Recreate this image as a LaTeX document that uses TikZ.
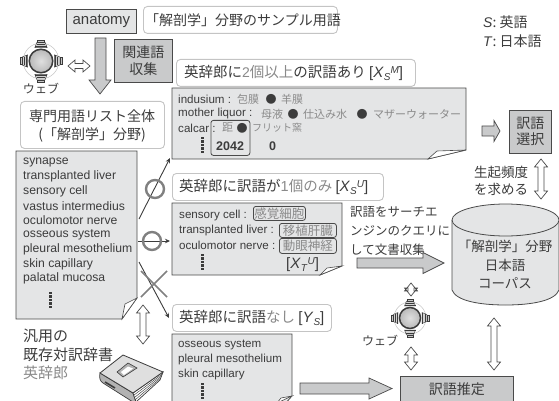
\documentclass[tikz,border=0pt]{standalone}
\usepackage{fontspec}
\setmainfont{Liberation Sans}
\newfontfamily\jp{Noto Sans CJK JP}
\usetikzlibrary{calc,arrows.meta}
\definecolor{ink}{HTML}{3C3C3C}
\definecolor{soft}{HTML}{8A8A8A}
\definecolor{paper}{HTML}{E4E5E6}
\definecolor{midgray}{HTML}{C9CACB}
\definecolor{edge}{HTML}{4A4A4A}
\definecolor{rim}{HTML}{C4C4C4}
\newcommand{\sz}[1]{\fontsize{#1}{#1}\selectfont}
\newcommand{\gr}[1]{\textcolor{soft}{#1}}
\newcommand{\subsup}[3]{\textit{#1}\raisebox{-3pt}{\sz{10}\textit{#2}}\raisebox{4pt}{\sz{10}\textit{#3}}}
\newcommand{\lat}{\rmfamily\sz{15}}
\tikzset{
  x=1pt,y=-1pt,
  lab/.style={font=\jp\sz{14},text=ink,inner sep=0pt,anchor=west},
  taglab/.style={font=\jp\sz{14.5},text=ink,inner sep=0pt,anchor=west},
  en/.style={font=\sz{11.6},text=ink,inner sep=0pt,anchor=west},
  enlist/.style={font=\sz{12.2},text=ink,inner sep=0pt,anchor=west},
  jsoft/.style={font=\jp\sz{11},text=soft,inner sep=0pt,anchor=west},
  dotsep/.style={font=\jp\sz{11},text=ink,inner sep=0pt,anchor=center},
  tag/.style={draw=rim,fill=white,rounded corners=4pt,line width=0.9pt,inner sep=0pt,anchor=north west},
  solidbox/.style={draw=edge,line width=0.8pt,inner sep=0pt,anchor=north west,font=\jp\sz{14},text=ink,align=center},
  sheet/.style={inner sep=0pt,anchor=north west},
  sheetline/.style={draw=edge,fill=paper,line width=0.8pt},
  foldline/.style={draw=edge,fill=white,line width=0.6pt},
  block/.style={draw=edge,fill=midgray,line width=0.7pt},
  hollow/.style={draw=edge,fill=white,line width=0.7pt},
  ringmark/.style={draw=gray,line width=2.4pt},
  thin arrow/.style={draw=ink,line width=0.9pt,-{Stealth[length=5pt,width=4.5pt]}},
  hi/.style={draw=edge,rounded corners=2.5pt,line width=0.8pt,inner sep=0pt,anchor=north west},
}
% vertical double-headed arrow: centre x, top y, bottom y
\newcommand{\dblV}[3]{\draw[hollow] (#1,#2) -- (#1+6.5,#2+8) -- (#1+3,#2+8) -- (#1+3,#3-8) -- (#1+6.5,#3-8) -- (#1,#3) -- (#1-6.5,#3-8) -- (#1-3,#3-8) -- (#1-3,#2+8) -- (#1-6.5,#2+8) -- cycle;}
% horizontal double-headed arrow: left x, right x, centre y
\newcommand{\dblH}[3]{\draw[hollow] (#1,#3) -- (#1+7,#3-6) -- (#1+7,#3-2.5) -- (#2-7,#3-2.5) -- (#2-7,#3-6) -- (#2,#3) -- (#2-7,#3+6) -- (#2-7,#3+2.5) -- (#1+7,#3+2.5) -- (#1+7,#3+6) -- cycle;}
% right-pointing block arrow: tail x, head start x, tip x, centre y, half shaft, half head
\newcommand{\blockR}[6]{\draw[block] (#1,#4-#5) -- (#2,#4-#5) -- (#2,#4-#6) -- (#3,#4) -- (#2,#4+#6) -- (#2,#4+#5) -- (#1,#4+#5) -- cycle;}
% stacked dots
\newcommand{\vdotsbar}[2]{\foreach \k in {0,1,2,3,4}{\fill[ink] (#1-1.5,#2+\k*3.4) rectangle (#1+1.5,#2+\k*3.4+2.3);}}
% globe with four speakers around it: x, y, scale
\newcommand{\globeicon}[3]{%
  \begin{scope}[shift={(#1,#2)},scale=#3]
    \draw[rim,line width=0.5pt] (0,0) circle[radius=16];
    \foreach \a in {0,90,180,270}{
      \begin{scope}[rotate=\a]
        \fill[gray!35,draw=ink,line width=0.4pt] (-5.5,-12) -- (5.5,-12) -- (3.5,-17) -- (-3.5,-17) -- cycle;
        \draw[ink,line width=1.1pt] (-5.5,-12.6) -- (5.5,-12.6);
        \draw[ink,line width=0.7pt] (-4,-15) -- (4,-15);
        \fill[gray!45,draw=ink,line width=0.3pt] (-3,-17) rectangle (3,-19);
      \end{scope}
    }
    \shade[inner color=gray!25,outer color=gray!55] (0,0) circle[radius=10.5];
    \draw[ink,line width=1.5pt] (0,0) circle[radius=10.5];
  \end{scope}}
\begin{document}
\begin{tikzpicture}
\useasboundingbox (0,0) rectangle (559,401);
\begin{scope}
\clip (0,0) rectangle (559,401);

% header row
\node[solidbox,fill=paper,font=\sz{15},minimum width=70pt,minimum height=24pt] (seed) at (66,9) {anatomy};
\node[tag,minimum width=194pt,minimum height=27pt] (sampletag) at (143,6) {};
\node[lab] (sampletext) at (145,20) {「解剖学」分野のサンプル用語};

% legend
\node[lab] (legS) at (483,22) {\textit{\rmfamily S}: 英語};
\node[lab] (legT) at (483,41) {\textit{\rmfamily T}: 日本語};

% seed collection
\draw[block] (95,38) -- (106,38) -- (106,80) -- (111,80) -- (100,94) -- (89,80) -- (95,80) -- cycle;
\node[solidbox,fill=midgray,minimum width=58pt,minimum height=43pt] (collect) at (114,39) {関連語\\[3pt]収集};
\globeicon{41}{61}{1.12}
\node[lab,font=\jp\sz{12},anchor=center] (webA) at (41,89) {ウェブ};
\dblH{68}{90}{66}

% full term list
\node[tag,minimum width=144pt,minimum height=47pt] (alltag) at (20,101) {};
\node[lab,anchor=center,align=center] (alltext) at (92,126) {専門用語リスト全体\\[4pt](「解剖学」分野)};
\node[sheet,minimum width=121pt,minimum height=168pt] (terms) at (16,151) {};
\draw[sheetline] (16,151) -- (137,151) -- (137,298) -- (122,319) -- (16,319) -- cycle;
\draw[foldline] (137,298) -- (125,304) -- (122,319) -- cycle;
\foreach \t [count=\i from 0] in {synapse,transplanted liver,sensory cell,vastus intermedius,oculomotor nerve,osseous system,pleural mesothelium,skin capillary,palatal mucosa}{
  \node[enlist] (term\i) at (23,{162+\i*14.6}) {\t};
}
\vdotsbar{50}{292}

% general dictionary
\node[lab,font=\jp\sz{15}] (dicA) at (23,336) {汎用の};
\node[lab,font=\jp\sz{15}] (dicB) at (23,355) {既存対訳辞書};
\node[lab,font=\jp\sz{15},text=soft] (dicC) at (23,373) {英辞郎};
\dblV{143}{305}{344}
% closed dictionary volume
\draw[fill=gray!60,draw=ink,line width=0.7pt] (100,373) .. controls (99,378) and (100,381) .. (103,383) -- (133,402) -- (136,402) -- (133,393) -- cycle;
\draw[fill=white,draw=ink,line width=0.7pt] (133,393) -- (163,372) -- (160,380) -- (136,402) -- cycle;
\foreach \s in {0.25,0.5,0.75}{
  \draw[ink,line width=0.45pt] ($(133,393)!\s!(136,402)$) -- ($(163,372)!\s!(160,380)$);
}
\draw[fill=gray!25,draw=ink,line width=0.8pt] (100,373) -- (123,355) -- (163,372) -- (133,393) -- cycle;
\draw[fill=gray!60,draw=ink,line width=0.6pt] (117,372) -- (128,363) -- (137,368) -- (123,377) -- cycle;
\fill[white] (121,372) -- (128,366.5) -- (133,368.5) -- (124,375) -- cycle;
\draw[ink,line width=1.6pt] (105,382) -- (115,388);

% routing by number of translations
\coordinate (multiEnd) at (170,158);
\coordinate (multiStart) at (139,219);
\coordinate (singleStart) at (138,241);
\coordinate (singleEnd) at (170,241);
\coordinate (noneStart) at (139,262);
\coordinate (noneEnd) at (169,318);
\draw[thin arrow] (multiStart) -- (multiEnd);
\draw[thin arrow] (singleStart) -- (singleEnd);
\draw[thin arrow] (noneStart) -- (noneEnd);
\draw[ringmark] (155,189) circle[radius=9];
\draw[ringmark] (152,241) circle[radius=9];
\draw[gray,line width=1.6pt] (141,271) -- (167,297) (167,271) -- (141,297);

% several translations
\node[tag,minimum width=239pt,minimum height=27pt] (manytag) at (176,59) {};
\node[taglab] (manytext) at (184,73) {英辞郎に\gr{\sz{14}\fontspec{Liberation Sans}2}\gr{個以上}の訳語あり {\lat [\subsup{X}{S}{M}]}};
\node[sheet,minimum width=294pt,minimum height=71pt] (manydoc) at (172,88) {};
\draw[sheetline] (172,88) -- (466,88) -- (466,150) -- (428,159) -- (172,159) -- cycle;
\draw[foldline] (466,150) -- (437,151) -- (428,159) -- cycle;
\node[en] (m1) at (178,99) {indusium :};
\node[jsoft] (m1a) at (237,99) {包膜};
\node[dotsep] (m1d) at (271,99) {●};
\node[jsoft] (m1b) at (281,99) {羊膜};
\node[en] (m2) at (178,114) {mother liquor :};
\node[jsoft] (m2a) at (261,114) {母液};
\node[dotsep] (m2d) at (293,114) {●};
\node[jsoft] (m2b) at (303,114) {仕込み水};
\node[dotsep] (m2e) at (362,114) {●};
\node[jsoft] (m2c) at (373,114) {マザーウォーター};
\node[en] (m3) at (178,128) {calcar :};
\node[jsoft] (m3a) at (222,128) {距};
\node[dotsep] (m3d) at (242,128) {●};
\node[jsoft,font=\jp\sz{10}] (m3b) at (252,128) {フリット窯};
\node[hi,minimum width=39pt,minimum height=35pt] (freqbox) at (210.5,120) {};
\node[en,font=\bfseries\sz{12.5}] (f1) at (216,146) {2042};
\node[en,font=\bfseries\sz{12.5}] (f2) at (269,146) {0};
\vdotsbar{202}{137}

% one translation
\node[tag,minimum width=211pt,minimum height=27pt] (onetag) at (172,173) {};
\node[taglab] (onetext) at (179,187) {英辞郎に訳語が\gr{\fontspec{Liberation Sans}1}\gr{個のみ} {\lat [\subsup{X}{S}{U}]}};
\node[sheet,minimum width=170pt,minimum height=72pt] (onedoc) at (172,203) {};
\draw[sheetline] (172,203) -- (342,203) -- (342,266) -- (320,275) -- (172,275) -- cycle;
\draw[foldline] (342,266) -- (327,268) -- (320,275) -- cycle;
\node[en] (o1) at (179,215) {sensory cell :};
\node[en] (o2) at (179,230) {transplanted liver :};
\node[en] (o3) at (179,245) {oculomotor nerve :};
\node[hi,minimum width=52pt,minimum height=14pt,font=\jp\sz{12.5},text=soft] (j1) at (253,206) {感覚細胞};
\node[hi,minimum width=57pt,minimum height=14pt,font=\jp\sz{12.5},text=soft] (j2) at (279,223) {移植肝臓};
\node[hi,minimum width=57pt,minimum height=15pt,font=\jp\sz{12.5},text=soft] (j3) at (279,238) {動眼神経};
\node[en,font=\sz{15}] (xtu) at (286,265) {[\subsup{X}{T}{U}]};
\vdotsbar{202}{254}

% search-engine step
\node[lab,font=\jp\sz{12.5}] (q1) at (350,212) {訳語をサーチエ};
\node[lab,font=\jp\sz{12.5}] (q2) at (350,231) {ンジンのクエリに};
\node[lab,font=\jp\sz{12.5}] (q3) at (350,250) {して文書収集};
\blockR{357}{423}{444}{263}{5}{10.5}

% no translation
\node[tag,minimum width=159pt,minimum height=27pt] (notag) at (172,304) {};
\node[taglab] (notext) at (179,318) {英辞郎に訳語\gr{なし} {\lat [\textit{Y}\raisebox{-3pt}{\sz{10}\textit{S}}]}};
\node[sheet,minimum width=120pt,minimum height=67pt] (nodoc) at (172,334) {};
\draw[sheetline] (172,334) -- (292,334) -- (292,396) -- (284,405) -- (172,405) -- cycle;
\draw[foldline] (292,396) -- (281,398) -- (277,403) -- cycle;
\node[en] (n1) at (178,345) {osseous system};
\node[en] (n2) at (178,359) {pleural mesothelium};
\node[en] (n3) at (178,374) {skin capillary};
\vdotsbar{202}{383}
\blockR{300}{369}{392}{388.5}{5.5}{10.5}

% estimation
\node[solidbox,fill=midgray,minimum width=113pt,minimum height=26pt] (estimate) at (400,376) {訳語推定};
\dblV{411}{283}{296}
\globeicon{410}{318}{1}
\node[lab,font=\jp\sz{12},anchor=center] (webB) at (380,341) {ウェブ};
\dblV{411}{347}{370}
\dblV{494}{318}{370}

% corpus cylinder
\draw[draw=edge,fill=paper,line width=0.8pt] (452,220) -- (452,290) .. controls (456,301) and (480,305) .. (505.5,305) .. controls (531,305) and (555,301) .. (559,290) -- (559,220);
\draw[draw=edge,fill=paper,line width=0.8pt] (505.5,220) ellipse[x radius=53.5,y radius=16];
\node[lab,anchor=center,font=\jp\sz{13.5}] (c1) at (505,246) {「解剖学」分野};
\node[lab,anchor=center,font=\jp\sz{13.5}] (c2) at (505,265) {日本語};
\node[lab,anchor=center,font=\jp\sz{13.5}] (c3) at (505,283) {コーパス};

% selection
\blockR{482}{494}{500}{131}{5}{10.5}
\node[solidbox,fill=midgray,minimum width=42pt,minimum height=43pt] (select) at (509,110) {訳語\\[2pt]選択};
\node[lab,font=\jp\sz{13.5}] (freqA) at (474,172) {生起頻度};
\node[lab,font=\jp\sz{13.5}] (freqB) at (474,189) {を求める};
\dblV{541}{159}{199}
\end{scope}
\end{tikzpicture}
\end{document}
